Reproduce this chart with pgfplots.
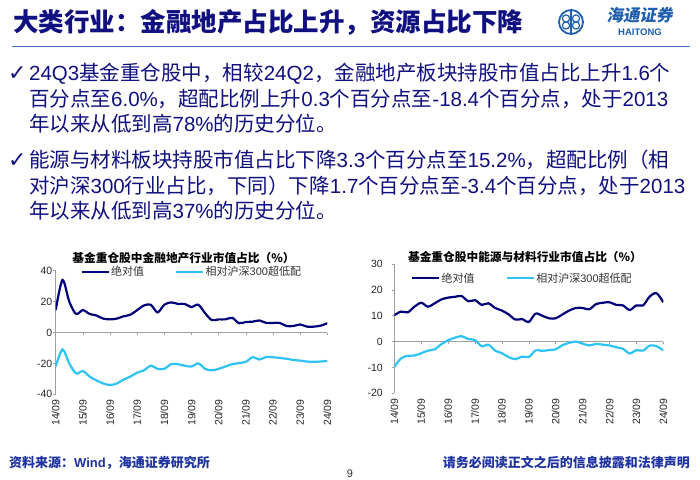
\documentclass[border=0pt]{standalone}
\usepackage{pgfplots}
\pgfplotsset{compat=1.18}
\usepackage{pgfplotstable}
\usepackage{fontspec}
\setmainfont{Liberation Sans}
\newfontfamily\cjk{Noto Sans CJK SC}
\newfontfamily\cjksl[FakeSlant=0.18]{Noto Sans CJK SC}
\newfontfamily\sym{DejaVu Sans}
\newcommand\lt[1]{{\rmfamily #1}}
\definecolor{navytxt}{RGB}{16,16,128}
\definecolor{rulec}{RGB}{70,110,190}
\definecolor{logoc}{RGB}{30,95,175}
\definecolor{darkser}{RGB}{0,0,120}
\definecolor{lightser}{RGB}{45,195,245}
\definecolor{footc}{RGB}{30,50,160}
\definecolor{axc}{RGB}{160,160,160}

\pgfplotstableread{
t v
0 14.5
1 34
2 20
3 12
4 14.5
5 12
6 11
7 9
8 8.5
9 9
10 10.5
11 11.5
12 14.5
13 17.5
14 18
15 13
16 18
17 19.5
18 18.5
19 18.5
20 16.5
21 18
22 12.5
23 8
24 8.5
25 8.5
26 9.5
27 6
28 6.8
29 7
30 7.8
31 6.2
32 6.2
33 6.2
34 4.2
35 4.2
36 5.2
37 3.8
38 3.8
39 4.4
40 6.0
}\darkA
\pgfplotstableread{
t v
0 -22
1 -11
2 -20
3 -26.5
4 -25
5 -28.5
6 -31
7 -33
8 -34
9 -33
10 -30.5
11 -28.5
12 -26
13 -24.5
14 -21.5
15 -23.5
16 -23.5
17 -20.5
18 -20.5
19 -21.5
20 -22
21 -20
22 -23.5
23 -24.5
24 -23.5
25 -22
26 -20.5
27 -19.8
28 -19
29 -16
30 -17.5
31 -15.8
32 -16
33 -16.5
34 -17
35 -17.8
36 -18.2
37 -18.8
38 -19
39 -18.8
40 -18.4
}\lightA
\pgfplotstableread{
t v
0 10.2
1 11.6
2 11.3
3 13.5
4 15
5 13.5
6 14.8
7 16.3
8 17
9 17.3
10 17.6
11 15.6
12 16
13 14.2
14 14.8
15 13
16 12
17 10.5
18 8.5
19 8.7
20 7.6
21 10.8
22 10
23 9
24 9
25 10.5
26 12
27 13
28 13
29 12.5
30 14.5
31 15
32 15.2
33 14.2
34 14
35 12.2
36 14
37 14
38 17.5
39 18.7
40 15.2
}\darkB
\pgfplotstableread{
t v
0 -9.8
1 -6.5
2 -5.5
3 -5.4
4 -4.5
5 -3.5
6 -3
7 -1
8 0.5
9 1.5
10 2.1
11 1
12 0.6
13 -1.8
14 -1.2
15 -3.5
16 -4.5
17 -6
18 -6.8
19 -5.8
20 -6
21 -3.4
22 -3.6
23 -3.3
24 -3
25 -1.4
26 -0.5
27 0
28 -0.8
29 -1.5
30 -0.9
31 -1.2
32 -1.5
33 -2.2
34 -2.8
35 -4.6
36 -3.3
37 -3.5
38 -1.5
39 -1.8
40 -3.4
}\lightB

\pgfplotsset{
  myax/.style={
    scale only axis, xmin=0, xmax=40,
    axis y line*=left, axis x line*=bottom,
    x axis line style={draw=none},
    y axis line style={draw=axc, line width=0.6pt},
    xtick={0,4,...,40},
    xticklabels={14/09,15/09,16/09,17/09,18/09,19/09,20/09,21/09,22/09,23/09,24/09},
    xtick style={draw=none},
    ytick style={draw=axc, line width=0.6pt},
    tick align=outside, major tick length=2.5pt,
    xticklabel style={rotate=90, anchor=east, inner sep=2.5pt},
    yticklabel style={inner sep=0.8pt},
    tick label style={font=\fontsize{10.5}{12}\selectfont, text=black!85},
    /pgf/number format/assume math mode=true,
    every axis plot/.append style={line width=2.2pt, smooth, no marks},
    legend image code/.code={\draw[##1, line width=2.2pt] (0pt,0pt) -- (27pt,0pt);},
    legend style={draw=none, fill=none, legend columns=2,
      font=\cjk\fontsize{11}{13}\selectfont, text=black!80,
      nodes={inner sep=1.2pt},
      /tikz/every even column/.append style={column sep=30pt}},
  },
  zeroax/.style={
    scale only axis, xmin=0, xmax=40,
    axis x line*=middle, axis y line=none,
    x axis line style={draw=axc, line width=0.6pt},
    xtick={0,4,...,40}, xticklabels={},
    xtick style={draw=axc, line width=0.6pt},
    tick align=outside, major tick length=2.5pt,
  }
}

\begin{document}
\begin{tikzpicture}[x=1pt,y=1pt]
\path[use as bounding box, fill=white] (0,0) rectangle (700,479);

% title
\node[anchor=base west, inner sep=0, text=navytxt, font=\cjk\bfseries\fontsize{25.5}{30}\selectfont] at (13,447.3) {大类行业：金融地产占比上升，资源占比下降};
\draw[rulec, line width=1.6pt] (12,432.5) -- (690,432.5);

% logo
\draw[logoc, line width=1.8pt] (571,457) circle (12);
\draw[logoc, line width=1.3pt] (571,446) -- (571,468);
\draw[logoc, line width=1.2pt] (566,460.5) circle (3.6) (576,460.5) circle (3.6) (566,453.5) circle (3.6) (576,453.5) circle (3.6);
\node[anchor=base, inner sep=0, text=logoc, font=\cjksl\bfseries\fontsize{16.5}{18}\selectfont] at (639.5,457.5) {海通证券};
\node[anchor=base, inner sep=0, text=logoc, font=\bfseries\fontsize{9.5}{11}\selectfont] at (640,443.5) {HAITONG};

% bullets
\begin{scope}[every node/.style={anchor=base west, inner sep=0, text=navytxt, font=\cjk\fontsize{20.5}{24}\selectfont}]
\node[font=\sym\fontsize{22}{24}\selectfont] at (8,398.2) {✓};
\node at (29,398.2) {\lt{24Q3}基金重仓股中，相较\lt{24Q2}，金融地产板块持股市值占比上升\lt{1.6}个};
\node at (29,372.7) {百分点至\lt{6.0\%}，超配比例上升\lt{0.3}个百分点至\lt{-18.4}个百分点，处于\lt{2013}};
\node at (29,347.2) {年以来从低到高\lt{78\%}的历史分位。};
\node[font=\sym\fontsize{22}{24}\selectfont] at (8,311.2) {✓};
\node at (29,311.2) {能源与材料板块持股市值占比下降\lt{3.3}个百分点至\lt{15.2\%}，超配比例（相};
\node at (29,285.7) {对沪深\lt{300}行业占比，下同）下降\lt{1.7}个百分点至\lt{-3.4}个百分点，处于\lt{2013}};
\node at (29,260.2) {年以来从低到高\lt{37\%}的历史分位。};
\end{scope}

% chart titles
\node[inner sep=0, font=\cjk\bfseries\fontsize{11.7}{13}\selectfont] at (183.5,221) {基金重仓股中金融地产行业市值占比（\%）};
\node[inner sep=0, font=\cjk\bfseries\fontsize{11.7}{13}\selectfont] at (525,222) {基金重仓股中能源与材料行业市值占比（\%）};

% chart 1: zero line with ticks
\begin{axis}[zeroax, at={(55.7pt,84.7pt)}, anchor=south west,
  width=271.6pt, height=123.6pt, ymin=-40, ymax=40]
\end{axis}
\begin{axis}[myax, at={(55.7pt,84.7pt)}, anchor=south west,
  width=271.6pt, height=123.6pt, ymin=-40, ymax=40, ytick={-40,-20,0,20,40},
  legend style={at={(0.5,0.99)}, anchor=center}]
\addplot[darkser] table[x=t,y=v] {\darkA};
\addlegendentry{绝对值}
\addplot[lightser] table[x=t,y=v] {\lightA};
\addlegendentry{相对沪深\lt{300}超低配}
\end{axis}

% chart 2
\begin{axis}[zeroax, at={(394.3pt,85.7pt)}, anchor=south west,
  width=269pt, height=129.3pt, ymin=-20, ymax=30]
\end{axis}
\begin{axis}[myax, at={(394.3pt,85.7pt)}, anchor=south west,
  width=269pt, height=129.3pt, ymin=-20, ymax=30, ytick={-20,-10,0,10,20,30},
  yticklabel style={xshift=-8pt},
  legend style={at={(0.475,0.89)}, anchor=center}]
\addplot[darkser] table[x=t,y=v] {\darkB};
\addlegendentry{绝对值}
\addplot[lightser] table[x=t,y=v] {\lightB};
\addlegendentry{相对沪深\lt{300}超低配}
\end{axis}

% footer
\node[anchor=base west, inner sep=0, text=footc, font=\cjk\bfseries\fontsize{13}{15}\selectfont] at (9,12) {资料来源：\lt{Wind}，海通证券研究所};
\node[anchor=base east, inner sep=0, text=footc, font=\cjk\bfseries\fontsize{13}{15}\selectfont] at (690,12) {请务必阅读正文之后的信息披露和法律声明};
\node[anchor=base, inner sep=0, text=black!80, font=\fontsize{11}{13}\selectfont] at (350,2) {9};
\end{tikzpicture}
\end{document}
